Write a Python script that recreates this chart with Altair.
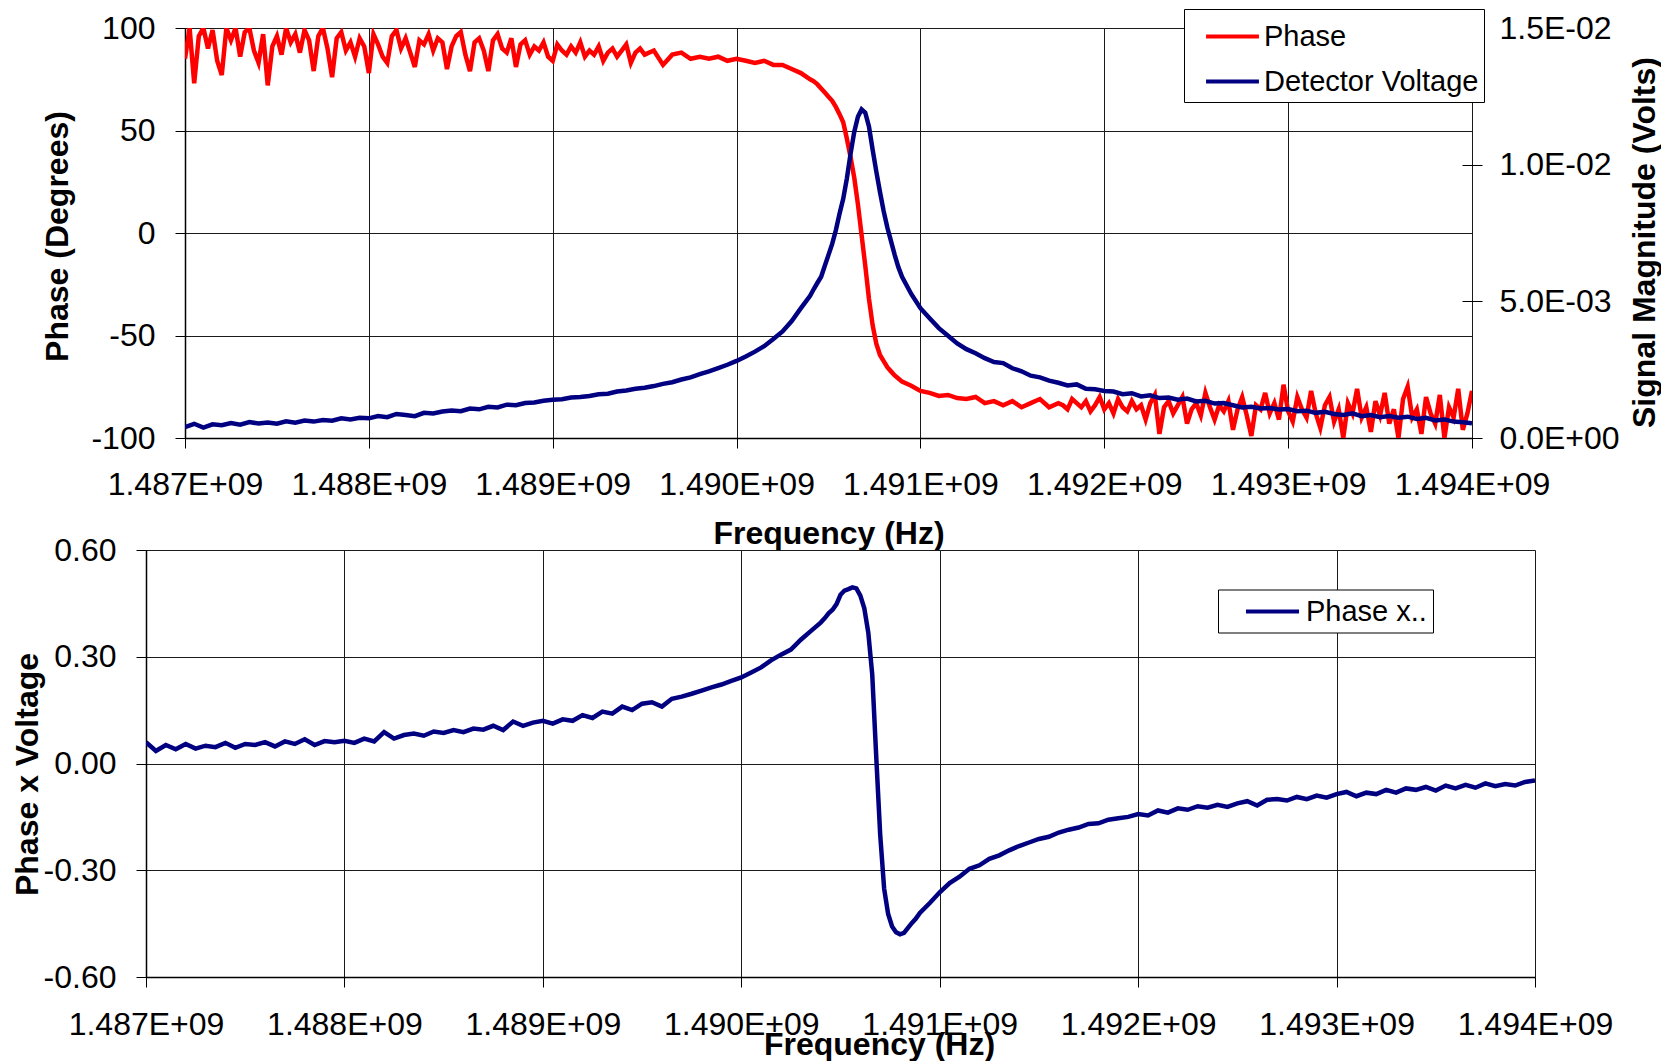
import altair as alt
import pandas as pd

FONT = "Liberation Sans"

# ---------------- shared frequency grid (MHz above 1487 MHz) ----------------
freq_a = [0.00, 0.05, 0.10, 0.15, 0.20, 0.25, 0.30, 0.35, 0.40, 0.45,
          0.50, 0.55, 0.60, 0.65, 0.70, 0.75, 0.80, 0.85, 0.90, 0.95,
          1.00, 1.05, 1.10, 1.15, 1.20, 1.25, 1.30, 1.35, 1.40, 1.45,
          1.50, 1.55, 1.60, 1.65, 1.70, 1.75, 1.80, 1.85, 1.90, 1.95,
          2.00, 2.05, 2.10, 2.15, 2.20, 2.25, 2.30, 2.35, 2.40, 2.45,
          2.50, 2.55, 2.60, 2.65, 2.70, 2.75, 2.80, 2.85, 2.90, 2.95,
          3.00, 3.05, 3.10, 3.15, 3.20, 3.25, 3.30, 3.35, 3.40]
freq_b = [3.42, 3.44, 3.46, 3.48, 3.50, 3.52, 3.54, 3.56, 3.58, 3.60,
          3.62, 3.64, 3.66, 3.68, 3.70, 3.72, 3.74, 3.76, 3.78, 3.80,
          3.82, 3.84, 3.86, 3.88, 3.90]
freq_c = [3.95, 4.00, 4.05, 4.10, 4.15, 4.20, 4.25, 4.30, 4.35, 4.40,
          4.45, 4.50, 4.55, 4.60, 4.65, 4.70, 4.75, 4.80, 4.85, 4.90,
          4.95, 5.00, 5.05, 5.10, 5.15, 5.20, 5.25, 5.30, 5.35, 5.40,
          5.45, 5.50, 5.55, 5.60, 5.65, 5.70, 5.75, 5.80, 5.85, 5.90,
          5.95, 6.00, 6.05, 6.10, 6.15, 6.20, 6.25, 6.30, 6.35, 6.40,
          6.45, 6.50, 6.55, 6.60, 6.65, 6.70, 6.75, 6.80, 6.85, 6.90,
          6.95, 7.00]

# ---------------- phase (denser sampling where it is noisy) ----------------
red_f1 = [0.000, 0.025, 0.050, 0.075, 0.100, 0.125, 0.150, 0.175, 0.200, 0.225,
          0.250, 0.275, 0.300, 0.325, 0.350, 0.375, 0.400, 0.425, 0.450, 0.475,
          0.500, 0.525, 0.550, 0.575, 0.600, 0.625, 0.650, 0.675, 0.700, 0.725,
          0.750, 0.775, 0.800, 0.825, 0.850, 0.875, 0.900, 0.925, 0.950, 0.975,
          1.000, 1.025, 1.050, 1.075, 1.100, 1.125, 1.150, 1.175, 1.200, 1.225,
          1.250, 1.275, 1.300, 1.325, 1.350, 1.375, 1.400, 1.425, 1.450, 1.475,
          1.500, 1.525, 1.550, 1.575, 1.600, 1.625, 1.650, 1.675, 1.700, 1.725,
          1.750, 1.775, 1.800, 1.825, 1.850, 1.875, 1.900, 1.925, 1.950, 1.975,
          2.000, 2.025, 2.050, 2.075, 2.100, 2.125, 2.150, 2.175, 2.200, 2.225,
          2.250, 2.275, 2.300, 2.325, 2.350, 2.375, 2.400, 2.425, 2.450, 2.475]
red_p1 = [85, 100, 73, 96, 100, 90, 99, 84, 77, 100,
          94, 100, 86, 98, 100, 89, 83, 97, 72, 91,
          96, 87, 100, 93, 97, 88, 99, 94, 79, 96,
          100, 90, 76, 95, 98, 89, 93, 86, 95, 91,
          78, 97, 92, 86, 83, 96, 99, 90, 95, 88,
          81, 94, 92, 97, 89, 95, 93, 80, 91, 96,
          98, 87, 79, 93, 95, 89, 79, 94, 97, 90,
          88, 95, 81, 92, 94, 87, 91, 89, 93, 86,
          84, 92, 89, 87, 91, 88, 93, 86, 89, 87,
          91, 84, 88, 90, 86, 89, 92, 83, 88, 90]
red_f2 = [2.50, 2.55, 2.60, 2.65, 2.70, 2.75, 2.80, 2.85, 2.90, 2.95,
          3.00, 3.05, 3.10, 3.15, 3.20, 3.25, 3.30, 3.35, 3.40]
red_p2 = [87, 89, 82, 87, 88, 85, 86, 85, 86, 84,
          85, 84, 83, 84, 82, 82, 80, 78, 75]
red_p_mid = [74, 72.5, 70.5, 68.5, 66.5, 64.5, 61.5, 58, 54, 46,
             37, 27, 14, -1, -16, -32, -45, -54, -59.5, -62.5,
             -65.5, -67.5, -69.5, -71, -72.5]
red_f3 = [3.95, 4.00, 4.05, 4.10, 4.15, 4.20, 4.25, 4.30, 4.35, 4.40,
          4.45, 4.50, 4.55, 4.60, 4.65, 4.70, 4.75]
red_p3 = [-74.5, -77, -78, -79.5, -79, -80.5, -81, -80, -83, -82,
          -84, -82, -85, -83, -81, -85, -83]
red_f4 = [4.775, 4.800, 4.825, 4.850, 4.875, 4.900, 4.925, 4.950, 4.975, 5.000,
          5.025, 5.050, 5.075, 5.100, 5.125, 5.150, 5.175, 5.200, 5.225, 5.250,
          5.275, 5.300, 5.325, 5.350, 5.375, 5.400, 5.425, 5.450, 5.475, 5.500,
          5.525, 5.550, 5.575, 5.600, 5.625, 5.650, 5.675, 5.700, 5.725, 5.750,
          5.775, 5.800, 5.825, 5.850, 5.875, 5.900, 5.925, 5.950, 5.975, 6.000,
          6.025, 6.050, 6.075, 6.100, 6.125, 6.150, 6.175, 6.200, 6.225, 6.250,
          6.275, 6.300, 6.325, 6.350, 6.375, 6.400, 6.425, 6.450, 6.475, 6.500,
          6.525, 6.550, 6.575, 6.600, 6.625, 6.650, 6.675, 6.700, 6.725, 6.750,
          6.775, 6.800, 6.825, 6.850, 6.875, 6.900, 6.925, 6.950, 6.975, 7.000]
red_p4 = [-84, -86, -81, -83, -85, -82, -87, -84, -80, -86,
          -83, -88, -81, -85, -87, -82, -86, -84, -91, -83,
          -79, -98, -85, -82, -88, -84, -80, -93, -86, -83,
          -89, -78, -85, -91, -84, -87, -82, -96, -86, -80,
          -89, -99, -84, -86, -78, -88, -83, -91, -74, -87,
          -92, -80, -86, -90, -77, -88, -95, -84, -80, -92,
          -86, -100, -83, -88, -76, -90, -85, -97, -82, -89,
          -78, -93, -86, -100, -81, -75, -90, -86, -98, -80,
          -88, -93, -79, -100, -85, -90, -76, -96, -88, -77]

# ---------------- detector voltage, mV ----------------
volt_a = [0.40, 0.52, 0.38, 0.50, 0.47, 0.55, 0.49, 0.58, 0.53, 0.57,
          0.52, 0.61, 0.56, 0.64, 0.60, 0.66, 0.63, 0.72, 0.68, 0.74,
          0.72, 0.80, 0.76, 0.88, 0.84, 0.80, 0.92, 0.90, 0.97, 1.01,
          0.98, 1.08, 1.05, 1.14, 1.12, 1.22, 1.20, 1.28, 1.30, 1.36,
          1.40, 1.42, 1.48, 1.50, 1.54, 1.60, 1.62, 1.70, 1.74, 1.80,
          1.84, 1.90, 1.98, 2.04, 2.14, 2.22, 2.34, 2.44, 2.56, 2.68,
          2.82, 2.98, 3.16, 3.36, 3.62, 3.90, 4.28, 4.75, 5.20]
volt_b = [5.45, 5.68, 5.90, 6.30, 6.70, 7.10, 7.60, 8.20, 8.75, 9.50,
          10.40, 11.20, 11.75, 12.02, 11.90, 11.40, 10.55, 9.75, 9.00, 8.30,
          7.70, 7.20, 6.70, 6.25, 5.90]
volt_c = [5.27, 4.75, 4.38, 4.02, 3.74, 3.46, 3.25, 3.10, 2.92, 2.78,
          2.74, 2.55, 2.44, 2.28, 2.22, 2.10, 2.02, 1.92, 1.96, 1.80,
          1.78, 1.72, 1.70, 1.60, 1.64, 1.52, 1.56, 1.46, 1.48, 1.40,
          1.44, 1.34, 1.36, 1.26, 1.28, 1.20, 1.12, 1.14, 1.08, 1.10,
          1.04, 1.06, 0.98, 1.00, 0.92, 0.96, 0.88, 0.84, 0.90, 0.80,
          0.84, 0.76, 0.80, 0.74, 0.78, 0.70, 0.74, 0.64, 0.68, 0.60,
          0.58, 0.54]

# ---------------- phase x voltage ----------------
pxv_a = [0.060, 0.035, 0.052, 0.040, 0.055, 0.042, 0.050, 0.046, 0.058, 0.044,
         0.055, 0.052, 0.060, 0.048, 0.062, 0.055, 0.068, 0.052, 0.063, 0.060,
         0.064, 0.058, 0.070, 0.062, 0.088, 0.070, 0.080, 0.084, 0.078, 0.090,
         0.086, 0.094, 0.088, 0.098, 0.095, 0.106, 0.094, 0.118, 0.106, 0.115,
         0.120, 0.112, 0.124, 0.120, 0.136, 0.128, 0.146, 0.140, 0.160, 0.150,
         0.168, 0.172, 0.160, 0.182, 0.188, 0.196, 0.205, 0.214, 0.222, 0.232,
         0.242, 0.256, 0.270, 0.290, 0.306, 0.320, 0.348, 0.372, 0.396]
pxv_b = [0.408, 0.422, 0.432, 0.448, 0.474, 0.486, 0.490, 0.495, 0.492, 0.472,
         0.436, 0.368, 0.250, 0.020, -0.200, -0.352, -0.423, -0.458, -0.474, -0.480,
         -0.476, -0.462, -0.448, -0.436, -0.420]
pxv_c = [-0.392, -0.362, -0.336, -0.318, -0.296, -0.286, -0.268, -0.258, -0.244, -0.232,
         -0.222, -0.212, -0.206, -0.194, -0.186, -0.180, -0.170, -0.168, -0.158, -0.154,
         -0.150, -0.142, -0.146, -0.132, -0.138, -0.126, -0.130, -0.120, -0.124, -0.116,
         -0.122, -0.112, -0.106, -0.118, -0.102, -0.100, -0.104, -0.094, -0.100, -0.090,
         -0.096, -0.086, -0.080, -0.092, -0.082, -0.086, -0.074, -0.082, -0.070, -0.074,
         -0.066, -0.076, -0.062, -0.070, -0.060, -0.068, -0.056, -0.064, -0.058, -0.062,
         -0.052, -0.048]

x_ticks = [1.487e9, 1.488e9, 1.489e9, 1.490e9, 1.491e9, 1.492e9, 1.493e9, 1.494e9]
phase_ticks = [-100, -50, 0, 50, 100]
volt_ticks = [0, 0.005, 0.010, 0.015]
pxv_ticks = [-0.60, -0.30, 0.00, 0.30, 0.60]

grid_mhz = freq_a + freq_b + freq_c
df = pd.DataFrame({
    "freq": [1.487e9 + m * 1e6 for m in grid_mhz],
    "volt": [v / 1000.0 for v in volt_a + volt_b + volt_c],
    "pxv": pxv_a + pxv_b + pxv_c,
})
red_mhz = red_f1 + red_f2 + freq_b + red_f3 + red_f4
df_red = pd.DataFrame({
    "freq": [1.487e9 + m * 1e6 for m in red_mhz],
    "phase": red_p1 + red_p2 + red_p_mid + red_p3 + red_p4,
})

RED = "#FF0000"
NAVY = "#000080"
GRID = "#1a1a1a"
LW = 4.5

common_axis = dict(
    labelFont=FONT, labelFontSize=32, labelColor="black",
    titleFont=FONT, titleFontSize=32, titleFontWeight="bold", titleColor="black",
    tickColor="black", tickWidth=1, domainColor="black", domainWidth=1.5,
    gridColor=GRID, gridWidth=1, labelOverlap=False, labelFlush=False,
)

x_label_expr = "format(datum.value / 1e9, '.3f') + 'E+09'"


def x_encoding(title_x, title_y, label_pad):
    extra = {}
    if title_x is not None:
        extra["titleX"] = title_x
    return alt.X(
        "freq:Q",
        scale=alt.Scale(domain=[1.487e9, 1.494e9], nice=False, zero=False),
        axis=alt.Axis(values=x_ticks, labelExpr=x_label_expr, title="Frequency (Hz)",
                      grid=True, tickSize=10, labelPadding=label_pad,
                      labelBaseline="middle", titleY=title_y, titleBaseline="middle",
                      **extra, **common_axis),
    )


x_top = x_encoding(None, 95, 36)
x_bot = x_encoding(733, 67, 37)

y_phase = alt.Y(
    "phase:Q",
    scale=alt.Scale(domain=[-100, 100], nice=False, zero=False),
    axis=alt.Axis(values=phase_ticks,
                  labelExpr="(datum.value < 0 ? '-' : '') + format(abs(datum.value), 'd')",
                  title="Phase (Degrees)", grid=True, tickSize=10, labelPadding=20,
                  titleX=-128, titleY=208, titleAngle=270, titleBaseline="middle",
                  titleAlign="center", **common_axis),
)

volt_label_expr = (
    "datum.value == 0 ? '0.0E+00' : "
    "format(datum.value / pow(10, floor(log(datum.value) / LN10 + 1e-9)), '.1f') + 'E-0' + "
    "format(-floor(log(datum.value) / LN10 + 1e-9), 'd')"
)
y_volt = alt.Y(
    "volt:Q",
    scale=alt.Scale(domain=[0, 0.015], nice=False, zero=False),
    axis=alt.Axis(orient="right", values=volt_ticks, labelExpr=volt_label_expr,
                  title="Signal Magnitude (Volts)", grid=False, domain=False,
                  offset=-10, tickSize=20, labelPadding=17,
                  titleX=182, titleY=214, titleAngle=270, titleBaseline="middle",
                  titleAlign="center", **common_axis),
)

y_pxv = alt.Y(
    "pxv:Q",
    scale=alt.Scale(domain=[-0.6, 0.6], nice=False, zero=False),
    axis=alt.Axis(values=pxv_ticks,
                  labelExpr="(datum.value < 0 ? '-' : '') + format(abs(datum.value), '.2f')",
                  title="Phase x Voltage", grid=True, tickSize=10, labelPadding=20,
                  titleX=-119, titleY=224, titleAngle=270, titleBaseline="middle",
                  titleAlign="center", **common_axis),
)

legend_common = dict(
    orient="none", direction="vertical", title=None,
    fillColor="white", strokeColor="black", symbolStrokeWidth=4,
    labelFont=FONT, labelFontSize=29, labelColor="black", labelLimit=600,
)

legend_top = alt.Legend(legendX=1038, legendY=-19, padding=5, rowPadding=7,
                        symbolType="M-1.29,0H1.29", symbolSize=1681,
                        symbolOffset=21, labelOffset=9, **legend_common)
legend_bot = alt.Legend(legendX=1072, legendY=39.5, padding=5.5,
                        symbolType="M-1.83,0H1.83", symbolSize=841,
                        symbolOffset=32.5, labelOffset=17, **legend_common)

top_colors = alt.Scale(domain=["Phase", "Detector Voltage"], range=[RED, NAVY])
bot_colors = alt.Scale(domain=["Phase x.."], range=[NAVY])

phase_line = alt.Chart(df_red).transform_calculate(series="'Phase'").mark_line(
    strokeWidth=LW, clip=True
).encode(x=x_top, y=y_phase,
         color=alt.Color("series:N", scale=top_colors, legend=legend_top))

volt_line = alt.Chart(df).transform_calculate(series="'Detector Voltage'").mark_line(
    strokeWidth=LW, clip=True
).encode(x=x_top, y=y_volt,
         color=alt.Color("series:N", scale=top_colors, legend=legend_top))

top = alt.layer(phase_line, volt_line).resolve_scale(y="independent").properties(
    width=1287, height=410)

pxv_line = alt.Chart(df).transform_calculate(series="'Phase x..'").mark_line(
    strokeWidth=LW, clip=True
).encode(x=x_bot, y=y_pxv,
         color=alt.Color("series:N", scale=bot_colors, legend=legend_bot))

# invisible layout helpers: shift the upper panel 39 px right of the lower one
spacer_df = pd.DataFrame({"k": [0]})
spacer_bot = alt.Chart(spacer_df).mark_rule(opacity=0, strokeWidth=0).encode(
    x=alt.value(-137), y=alt.value(0), y2=alt.value(1))
spacer_col = alt.Chart(spacer_df).mark_rule(opacity=0, strokeWidth=0).encode(
    x=alt.value(0), y=alt.value(0), y2=alt.value(1)
).properties(width=1, height=1,
             view=alt.ViewBackground(fill="transparent", stroke="transparent"))

bottom = alt.layer(pxv_line, spacer_bot).properties(width=1389, height=427)

top_row = alt.hconcat(spacer_col, top, spacing=38, bounds="flush")

chart = alt.vconcat(top_row, bottom, spacing=-18).resolve_scale(
    color="independent").resolve_legend(color="independent").properties(
    padding={"left": 0, "top": 0, "right": 0, "bottom": 0}
).configure_view(fill="#C0C0C0", stroke="#808080", strokeWidth=2).configure(
    background="white", font=FONT)

chart.save("out.html", embed_options={"renderer": "svg", "actions": False})
